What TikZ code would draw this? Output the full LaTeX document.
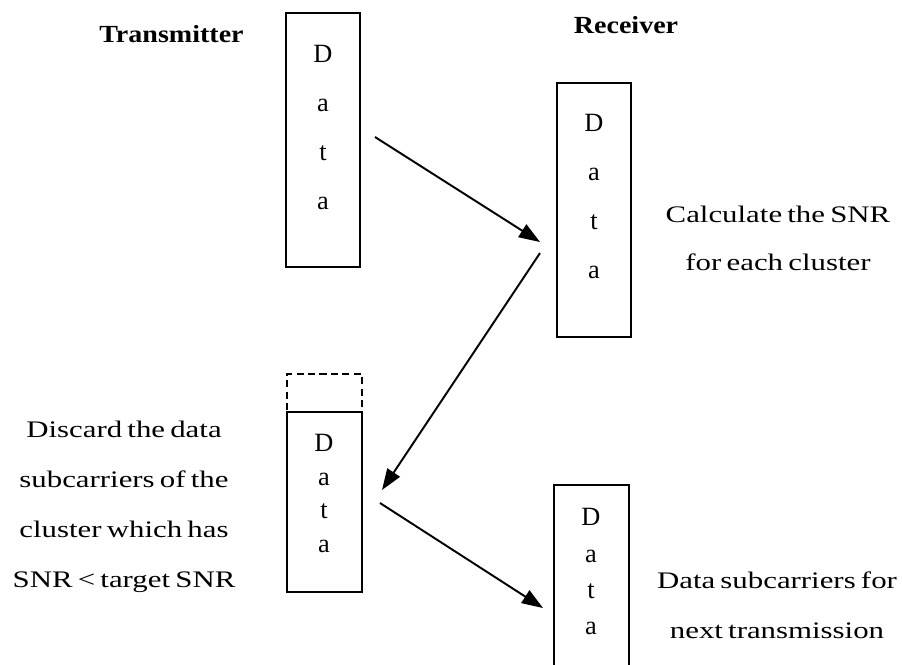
\documentclass[tikz,border=0pt]{standalone}
\usepackage{fontspec}
\setmainfont{Liberation Serif}
\usepackage{graphicx}
\usetikzlibrary{arrows.meta}

\newcommand{\widetxt}[2][1.3]{\scalebox{#1}[1]{#2}}
\newcommand{\tightsp}{\spaceskip=0.17em\relax}

\begin{document}
\begin{tikzpicture}[
    x=0.02cm, y=-0.02cm,
    frame/.style={draw, line width=1.1pt, minimum width=1.48cm, inner sep=0pt},
    letters/.style={align=center, inner sep=0pt, font=\fontsize{15}{28}\selectfont},
    head/.style={inner sep=0pt, font=\fontsize{14}{16}\selectfont\bfseries},
    remark/.style={align=center, inner sep=0pt, font=\fontsize{13.5}{28.45}\selectfont\tightsp},
    flow/.style={line width=1.1pt, -{Triangle[length=12pt, width=8.5pt]}}
  ]
  \path[use as bounding box, fill=white] (0,0) rectangle (902,664);

  % data blocks
  \node[frame, minimum height=5.08cm] (tx) at (323,140) {};
  \node[frame, minimum height=5.08cm] (rx) at (594,210) {};
  \node[frame, minimum width=1.5cm, minimum height=3.6cm] (dc) at (324.5,502) {};
  \node[frame, dashed, dash pattern=on 4pt off 2.5pt, minimum width=1.5cm, minimum height=0.76cm] (cut) at (324.5,393) {};
  \node[frame, minimum width=1.5cm, minimum height=3.9cm] (nx) at (591.5,582.5) {};

  \node[letters] (txd) at (323,127.5) {D\\a\\t\\a};
  \node[letters] (rxd) at (594,196.5) {D\\a\\t\\a};
  \node[letters, font=\fontsize{15}{19.2}\selectfont] (dcd) at (324,493.5) {D\\a\\t\\a};
  \node[letters, font=\fontsize{15}{20.5}\selectfont] (nxd) at (591,571.5) {D\\a\\t\\a};

  % titles and notes
  \node[head, anchor=base] (txt) at (171.5,42) {\widetxt[1.14]{Transmitter}};
  \node[head, anchor=base] (rxt) at (626,33) {\widetxt[1.14]{Receiver}};
  \node[remark, font=\fontsize{13.5}{27.3}\selectfont\tightsp] (snr) at (778,238) {\widetxt{Calculate the SNR}\\\widetxt{for each cluster}};
  \node[remark] (drop) at (124,507) {\widetxt{Discard the data}\\\widetxt{subcarriers of the}\\\widetxt{cluster which has}\\\widetxt{SNR < target SNR}};
  \node[remark] (next) at (777,605) {\widetxt{Data subcarriers for}\\\widetxt{next transmission}};

  % steps
  \coordinate (s1) at (375,137);
  \coordinate (e1) at (540,242);
  \coordinate (s2) at (540,253);
  \coordinate (e2) at (382,490);
  \coordinate (s3) at (380,503);
  \coordinate (e3) at (543,608);
  \draw[flow] (s1) -- (e1);
  \draw[flow] (s2) -- (e2);
  \draw[flow] (s3) -- (e3);
\end{tikzpicture}
\end{document}
